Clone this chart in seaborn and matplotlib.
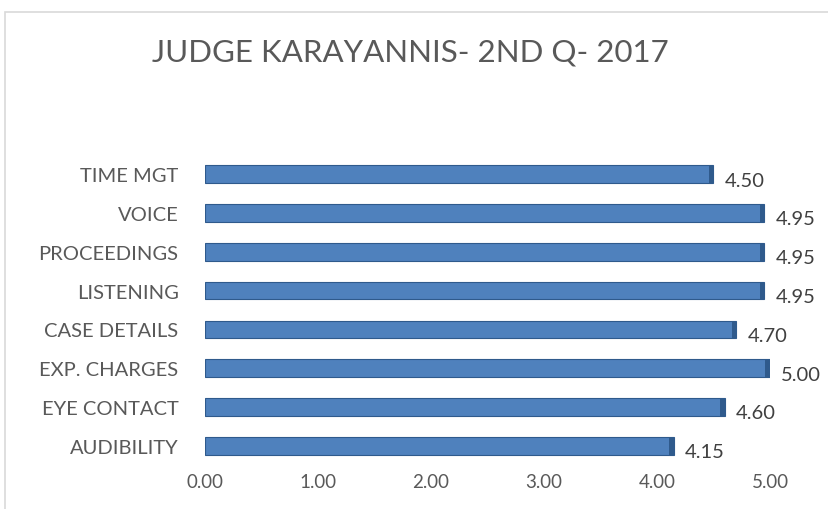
import matplotlib.pyplot as plt
import seaborn as sns
import pandas as pd
from matplotlib.patches import Rectangle

# chart data (top to bottom)
categories = ['TIME MGT', 'VOICE', 'PROCEEDINGS', 'LISTENING',
              'CASE DETAILS', 'EXP. CHARGES', 'EYE CONTACT', 'AUDIBILITY']
scores = [4.50, 4.95, 4.95, 4.95, 4.70, 5.00, 4.60, 4.15]
x_ticks = [0, 1, 2, 3, 4, 5]
title = 'JUDGE KARAYANNIS- 2ND Q- 2017'

df = pd.DataFrame({'category': categories, 'score': scores})

sns.set_style('white')
plt.rcParams['font.family'] = ['Lato', 'DejaVu Sans']

fig = plt.figure(figsize=(8.29, 5.10), dpi=100)
W, H = 829, 510
ax = fig.add_axes([205 / W, 1 - 470 / H, 565 / W, 318 / H])

sns.barplot(data=df, y='category', x='score', order=categories, ax=ax,
            color='#4F81BD', saturation=1, width=0.45,
            edgecolor='#2F5A8C', linewidth=0.8)

# darker right end cap for the bevelled look
for i, v in enumerate(scores):
    ax.barh(i, 0.04, left=v - 0.04, height=0.45, color='#2F5A8C', linewidth=0)

# value labels
for i, v in enumerate(scores):
    ax.text(v + 0.1, i + 0.15, f'{v:.2f}', va='center', ha='left',
            fontsize=14.5, color='#404040')

ax.set_xlim(0, 5)
ax.set_xticks(x_ticks)
ax.set_xticklabels([f'{t:.2f}' for t in x_ticks])
ax.set_xlabel('')
ax.set_ylabel('')
ax.tick_params(axis='x', length=0, pad=3, labelsize=13.5, labelcolor='#595959')
ax.tick_params(axis='y', length=0, pad=19, labelsize=14.5, labelcolor='#595959')
for s in ax.spines.values():
    s.set_visible(False)

fig.text(410 / W, 1 - 52 / H, title, ha='center', va='center',
         fontsize=22.5, color='#595959')

# chart frame
fig.patches.append(Rectangle((5 / W, -0.1), 1.2, 1 - 13 / H + 0.1,
                             transform=fig.transFigure, fill=False,
                             edgecolor='#D9D9D9', linewidth=1.2))

fig.savefig('out.png', dpi=100)
